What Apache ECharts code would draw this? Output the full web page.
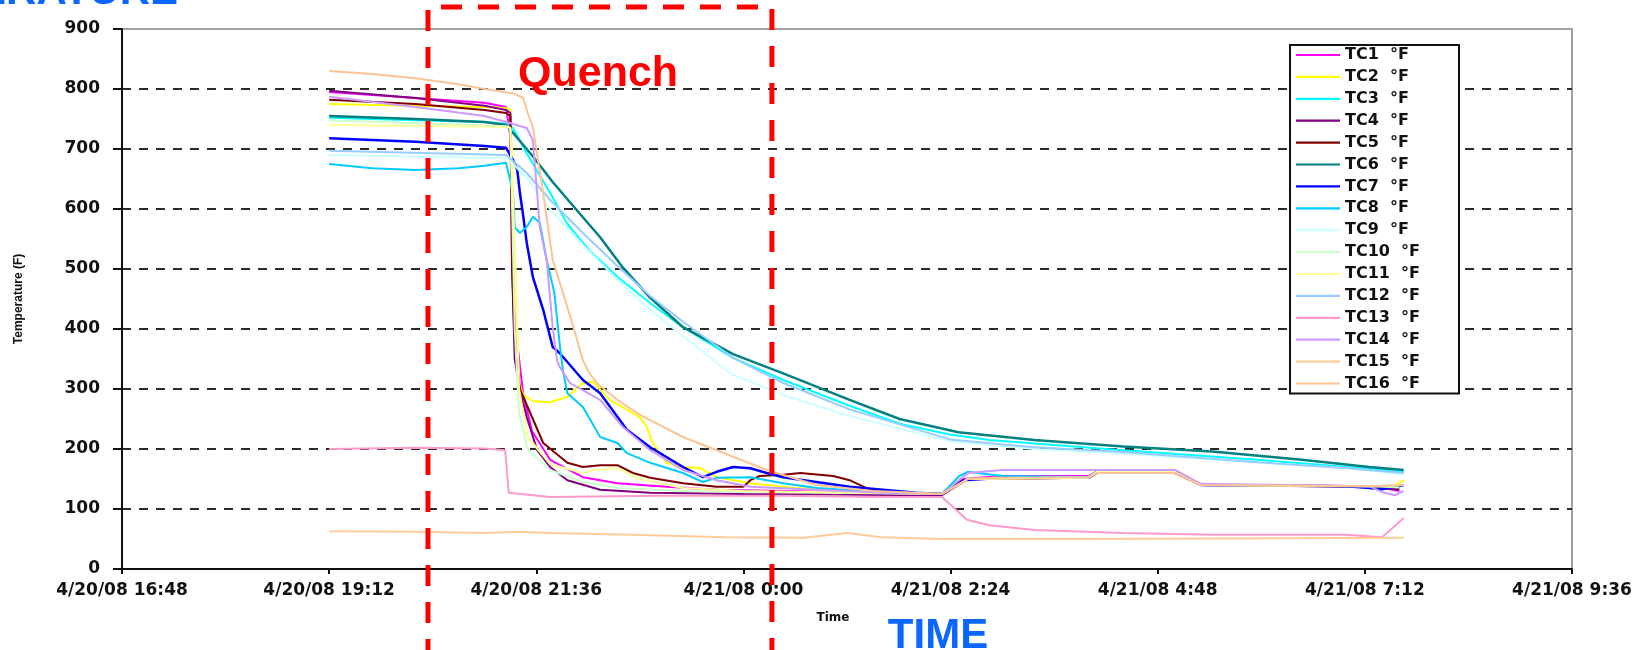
<!DOCTYPE html>
<html><head><meta charset="utf-8">
<script src="https://cdn.jsdelivr.net/npm/echarts@6/dist/echarts.min.js"></script>
<style>html,body{margin:0;padding:0;background:#fff;}#c{width:1650px;height:650px;}</style>
</head><body><div id="c"></div>
<script>
// time values are hours counted from 4/20/08 0:00 ; temperatures in °F
const xMin = 16.8, xMax = 33.6, xStep = 2.4;
const yMin = 0, yMax = 900, yStep = 100;
const quenchWindow = [20.345, 24.33];

const seriesNames = ['TC1 °F','TC2 °F','TC3 °F','TC4 °F','TC5 °F','TC6 °F','TC7 °F','TC8 °F',
  'TC9 °F','TC10 °F','TC11 °F','TC12 °F','TC13 °F','TC14 °F','TC15 °F','TC16 °F'];
const seriesColors = ['#ff00ff','#ffff00','#00ffff','#800080','#800000','#008080','#0000ff','#00ccff',
  '#ccffff','#ccffcc','#ffff99','#99ccff','#ff99cc','#cc99ff','#ffcc99','#fcc494'];

const tc1 = [[19.2,795],[20.2,785],[21.0,777],[21.25,770],[21.3,720],[21.36,400],[21.45,290],[21.55,230],[21.76,182],[22.14,153],[22.54,143],[23.11,137],[23.69,132],[24.5,130],[25.5,127],[26.3,125],[26.55,150],[27.0,155],[28.0,155],[28.1,163],[29.0,163],[29.3,140],[31.3,138],[31.6,130]];
const tc2 = [[19.2,775],[20.2,772],[21.0,770],[21.25,768],[21.3,765],[21.35,500],[21.4,310],[21.45,290],[21.56,280],[21.76,278],[21.96,287],[22.14,310],[22.26,312],[22.45,282],[22.8,253],[22.88,237],[22.95,210],[23.11,177],[23.3,170],[23.5,168],[23.69,153],[24.08,143],[24.6,135],[25.5,128],[26.3,125],[26.6,150],[27.0,153],[28.0,153],[28.1,163],[29.0,163],[29.3,140],[30.5,138],[31.3,138],[31.5,135],[31.65,148]];
const tc3 = [[19.2,752],[20.2,748],[21.0,745],[21.25,742],[21.33,735],[21.5,690],[21.76,627],[21.96,575],[22.22,530],[22.54,487],[22.92,443],[23.3,403],[23.88,352],[24.46,315],[25.23,272],[25.81,242],[26.39,224],[26.85,215],[28.4,198],[29.95,182],[31.0,170],[31.65,162]];
const tc4 = [[19.2,797],[20.2,785],[21.0,772],[21.25,765],[21.3,760],[21.32,500],[21.35,350],[21.41,298],[21.49,253],[21.61,198],[21.76,170],[21.96,148],[22.34,132],[22.92,127],[24.0,125],[26.3,123],[26.6,150],[28.0,152],[28.1,162],[29.0,162],[29.3,140],[31.3,137],[31.6,132]];
const tc5 = [[19.2,782],[20.2,775],[21.0,765],[21.25,760],[21.3,755],[21.32,500],[21.35,380],[21.41,300],[21.68,210],[21.96,177],[22.14,170],[22.34,173],[22.54,173],[22.72,160],[22.92,152],[23.3,143],[23.69,137],[24.0,137],[24.08,148],[24.19,155],[24.46,157],[24.66,160],[25.04,155],[25.23,148],[25.47,132],[25.81,127],[26.3,125],[26.6,150],[28.0,152],[28.1,160],[29.0,160],[29.3,140],[31.3,138],[31.6,135]];
const tc6 = [[19.2,755],[20.2,750],[21.0,745],[21.25,740],[21.3,732],[21.56,688],[21.79,645],[22.07,598],[22.34,553],[22.6,503],[22.92,452],[23.3,403],[23.88,358],[24.46,326],[25.23,282],[25.81,250],[26.49,228],[27.37,215],[28.4,204],[29.43,196],[30.47,182],[31.25,170],[31.65,165]];
const tc7 = [[19.2,718],[20.2,712],[21.0,705],[21.25,702],[21.33,682],[21.38,665],[21.41,627],[21.45,587],[21.49,543],[21.56,487],[21.68,432],[21.79,370],[21.87,360],[22.14,315],[22.34,293],[22.65,232],[22.92,203],[23.3,170],[23.53,153],[23.69,162],[23.88,170],[24.08,168],[24.27,160],[24.46,153],[25.23,137],[26.0,127],[26.3,125],[26.55,148],[27.0,152],[28.0,152],[28.1,162],[29.0,162],[29.3,140],[31.0,138],[31.25,135],[31.4,133],[31.65,140]];
const tc8 = [[19.2,675],[19.7,668],[20.2,665],[20.7,668],[21.0,672],[21.25,677],[21.33,627],[21.35,570],[21.41,560],[21.49,570],[21.56,587],[21.64,577],[21.72,515],[21.81,460],[21.87,377],[21.91,330],[21.96,293],[22.14,270],[22.34,220],[22.54,210],[22.65,193],[22.92,177],[23.3,160],[23.53,145],[23.69,152],[24.08,153],[24.46,143],[24.85,135],[25.62,128],[26.3,125],[26.5,155],[26.6,162],[27.0,155],[28.0,153],[28.1,163],[29.0,163],[29.3,140],[31.3,138],[31.65,140]];
const tc9 = [[19.2,690],[21.25,685],[21.3,680],[21.5,650],[21.76,600],[22.14,540],[22.54,482],[22.92,432],[23.3,388],[23.86,325],[24.46,290],[25.23,255],[26.39,213],[27.37,200],[28.4,192],[29.95,178],[31.0,168],[31.65,158]];
const tc10 = [[19.2,748],[21.25,738],[21.3,735],[21.35,400],[21.4,260],[21.5,200],[21.76,165],[22.14,145],[22.54,135],[23.3,130],[24.5,128],[26.3,125],[26.6,150],[28.0,153],[28.1,162],[29.0,162],[29.3,140],[31.3,138],[31.6,136]];
const tc11 = [[19.2,740],[21.25,737],[21.3,735],[21.36,500],[21.4,300],[21.5,220],[21.76,175],[22.14,160],[22.26,165],[22.54,168],[22.8,150],[23.3,135],[24.0,130],[26.3,125],[26.6,150],[28.0,152],[28.1,162],[29.0,162],[29.3,140],[31.3,138],[31.6,140]];
const tc12 = [[19.2,697],[21.25,690],[21.49,660],[21.76,615],[22.14,560],[22.54,505],[22.92,455],[23.3,412],[23.88,352],[24.46,310],[25.23,266],[26.39,216],[27.37,203],[28.4,195],[29.95,178],[31.0,168],[31.65,160]];
const tc13 = [[19.2,200],[20.2,202],[21.0,201],[21.24,198],[21.28,127],[21.76,120],[23.0,122],[24.5,122],[25.5,120],[26.3,120],[26.59,82],[26.85,73],[27.37,65],[28.4,60],[29.43,57],[30.98,57],[31.4,53],[31.65,85]];
const tc14 = [[19.2,787],[20.2,770],[21.0,755],[21.25,745],[21.49,735],[21.56,715],[21.61,627],[21.64,570],[21.72,515],[21.79,403],[21.84,348],[21.87,337],[21.99,310],[22.34,282],[22.6,237],[22.92,198],[23.3,165],[23.69,148],[24.08,137],[24.85,132],[25.62,127],[26.3,125],[26.6,160],[27.0,165],[28.0,165],[29.0,165],[29.3,142],[31.25,138],[31.4,128],[31.55,123],[31.65,130]];
const tc15 = [[19.2,63],[20.2,62],[21.0,60],[21.4,62],[21.76,60],[22.7,57],[23.8,53],[24.7,52],[25.2,60],[25.6,53],[26.3,50],[28.0,50],[31.65,52]];
const tc16 = [[19.2,830],[19.7,825],[20.2,818],[20.7,808],[21.0,800],[21.33,793],[21.45,785],[21.5,760],[21.56,737],[21.68,627],[21.79,515],[21.91,460],[22.03,403],[22.14,348],[22.2,330],[22.3,310],[22.54,282],[22.8,257],[23.3,220],[23.69,198],[24.27,165],[24.85,140],[25.5,130],[26.0,127],[26.3,125],[26.6,150],[27.0,152],[28.0,153],[28.1,160],[29.0,160],[29.3,140],[31.3,138],[31.65,140]];
const seriesData = [tc1,tc2,tc3,tc4,tc5,tc6,tc7,tc8,tc9,tc10,tc11,tc12,tc13,tc14,tc15,tc16];

function fmtTime(v){
  const m = Math.round(v*60);
  const day = 20 + Math.floor(m/1440);
  const mm = m % 1440;
  return '4/' + day + '/08 ' + Math.floor(mm/60) + ':' + String(mm%60).padStart(2,'0');
}

const chart = echarts.init(document.getElementById('c'), null, {renderer:'canvas'});
const labelFont = 'DejaVu Sans';
chart.setOption({
  animation: false,
  backgroundColor: '#ffffff',
  grid: {left:122, right:78, top:29, bottom:81, containLabel:false, outerBoundsMode:'none',
         show:true, borderColor:'#a0a0a0', borderWidth:2, backgroundColor:'transparent'},
  legend: {
    orient:'vertical', left:1290, top:45, padding:[2,39,2,6],
    itemWidth:44, itemHeight:14, itemGap:5.9,
    icon:'path://M0,0L44,0L44,2.2L0,2.2Z',
    backgroundColor:'#ffffff', borderColor:'#111', borderWidth:2, borderRadius:0,
    textStyle:{fontFamily:labelFont, fontWeight:'bold', fontSize:16, color:'#111'},
    formatter: n => n.replace(' ', '  '),
    data: seriesNames
  },
  xAxis: {
    type:'value', min:xMin, max:xMax, interval:xStep,
    name:'Time', nameLocation:'middle', nameGap:43,
    nameTextStyle:{fontFamily:labelFont, fontWeight:'bold', fontSize:12, color:'#111', padding:[0,28,0,0]},
    axisLine:{show:true, onZero:false, lineStyle:{color:'#111', width:2}},
    axisTick:{show:true, length:5, lineStyle:{color:'#111', width:2}},
    axisLabel:{formatter:fmtTime, margin:13, fontFamily:labelFont, fontWeight:'bold', fontSize:17, color:'#111', showMinLabel:true, showMaxLabel:true},
    splitLine:{show:false}
  },
  yAxis: {
    type:'value', min:yMin, max:yMax, interval:yStep,
    name:'Temperature (F)', nameLocation:'middle', nameGap:97, nameRotate:90,
    nameTextStyle:{fontFamily:'Liberation Sans', fontWeight:'bold', fontSize:12, color:'#111'},
    axisLine:{show:true, lineStyle:{color:'#111', width:2}},
    axisTick:{show:true, length:9, lineStyle:{color:'#111', width:2}},
    axisLabel:{margin:22, fontFamily:labelFont, fontWeight:'bold', fontSize:17, color:'#111'},
    splitLine:{show:true, showMaxLine:false, lineStyle:{color:'#2a2a2a', width:2, type:[9,8]}}
  },
  series: seriesNames.map((n,i)=>({
    name:n, type:'line', data:seriesData[i], symbol:'none', showSymbol:false, smooth:false,
    lineStyle:{color:seriesColors[i], width:(i===5||i===6)?2.5:2},
    itemStyle:{color:seriesColors[i]}, z:2+i
  }))
});

const xl = chart.convertToPixel({xAxisIndex:0}, quenchWindow[0]);
const xr = chart.convertToPixel({xAxisIndex:0}, quenchWindow[1]);
chart.setOption({
  graphic: [
    {type:'polyline', z:100, silent:true,
     shape:{points:[[xl,660],[xl,7],[xr,7],[xr,660]]},
     style:{stroke:'#ff0000', lineWidth:5, fill:null, lineDash:[21,16]}},
    {type:'text', z:101, x:518, y:74, silent:true,
     style:{text:'Quench', fill:'#ff0000', font:'bold 43px "Liberation Sans"', align:'left', verticalAlign:'middle'}},
    {type:'text', z:101, x:938, y:636, silent:true,
     style:{text:'TIME', fill:'#0a66ff', font:'bold 42px "Liberation Sans"', align:'center', verticalAlign:'middle'}},
    {type:'text', z:101, x:178, y:-8, silent:true,
     style:{text:'TEMPERATURE', fill:'#0a66ff', font:'bold 42px "Liberation Sans"', align:'right', verticalAlign:'middle'}}
  ]
});
</script></body></html>
